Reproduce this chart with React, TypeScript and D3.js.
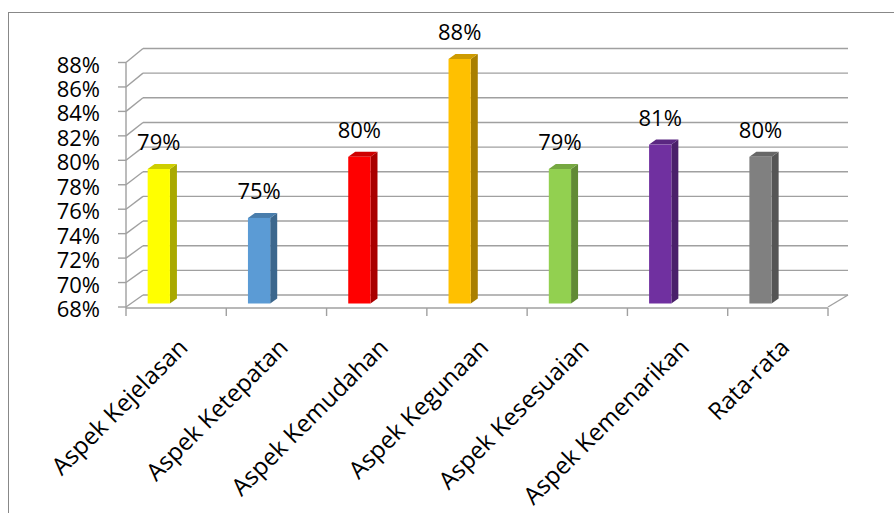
import React from "react";
import * as d3 from "d3";

const categories = [
  "Aspek Kejelasan",
  "Aspek Ketepatan",
  "Aspek Kemudahan",
  "Aspek Kegunaan",
  "Aspek Kesesuaian",
  "Aspek Kemenarikan",
  "Rata-rata",
];
const values = [79, 75, 80, 88, 79, 81, 80];
const barColors = ["#FFFF00", "#5B9BD5", "#FF0000", "#FFC000", "#92D050", "#7030A0", "#808080"];
const yTicks = [68, 70, 72, 74, 76, 78, 80, 82, 84, 86, 88];

const W = 894;
const H = 513;
const FONT = "'Open Sans', 'DejaVu Sans', sans-serif";

export default function App() {
  const x0 = 126;
  const x1 = 828;
  const depthX = 17;
  const yFront = d3.scaleLinear().domain([68, 88]).range([307, 62.5]);
  const yBack = d3.scaleLinear().domain([68, 88]).range([295, 48.5]);
  const band = d3.scaleBand<string>().domain(categories).range([x0, x1]).padding(0);
  const bw = band.bandwidth();
  const backX0 = x0 + depthX;
  const backX1 = 848;
  const grid = "#A0A0A0";

  const faceOff = bw * 0.216;
  const faceW = bw * 0.222;
  const sideDx = 7;
  const sideDy = 5;
  const yBar = (v: number) => yFront(v) - 3.5;

  return (
    <svg width={W} height={H} style={{ position: "absolute", left: 0, top: 0, background: "#fff" }}>
      <rect x={8.5} y={12.5} width={1000} height={1000} fill="#fff" stroke="#888" strokeWidth={1} />
      {yTicks.map((t) => (
        <line key={"bg" + t} x1={backX0} x2={backX1} y1={yBack(t)} y2={yBack(t)} stroke={grid} strokeWidth={1.4} />
      ))}
      {yTicks.map((t) => (
        <line key={"lw" + t} x1={x0} x2={backX0} y1={yFront(t)} y2={yBack(t)} stroke={grid} strokeWidth={1.4} />
      ))}
      <line x1={x1} y1={yFront(68)} x2={backX1} y2={yBack(68)} stroke={grid} strokeWidth={1.4} />
      <line x1={x0} x2={x0} y1={yFront(88)} y2={yFront(68) + 1} stroke={grid} strokeWidth={1.4} />
      <line x1={x0} x2={x1} y1={yFront(68) + 1} y2={yFront(68) + 1} stroke={grid} strokeWidth={1.4} />
      {yTicks.map((t) => (
        <g key={"yt" + t}>
          <line x1={x0 - 8} x2={x0} y1={yFront(t)} y2={yFront(t)} stroke={grid} strokeWidth={1.4} />
          <text x={100} y={yFront(t) + 10} textAnchor="end" fontSize={22} fontFamily={FONT} fill="#000">
            {t + "%"}
          </text>
        </g>
      ))}
      {d3.range(categories.length + 1).map((i) => {
        const xx = x0 + i * bw;
        return <line key={"xt" + i} x1={xx} x2={xx} y1={yFront(68) + 1} y2={yFront(68) + 9} stroke={grid} strokeWidth={1.4} />;
      })}
      {categories.map((c, i) => {
        const v = values[i];
        const l = (band(c) as number) + faceOff;
        const r = l + faceW;
        const top = yBar(v);
        const bot = yBar(68);
        const base = d3.rgb(barColors[i]);
        const side = base.darker(1.15).formatHex();
        const topC = base.darker(0.6).formatHex();
        return (
          <g key={c}>
            <path
              d={`M${r},${top}L${r + sideDx},${top - sideDy}L${r + sideDx},${bot - sideDy}L${r},${bot}Z`}
              fill={side}
            />
            <path
              d={`M${l},${top}L${l + sideDx},${top - sideDy}L${r + sideDx},${top - sideDy}L${r},${top}Z`}
              fill={topC}
            />
            <rect x={l} y={top} width={faceW} height={bot - top} fill={barColors[i]} />
            <text x={(l + r) / 2} y={top - 19} textAnchor="middle" fontSize={22} fontFamily={FONT} fill="#000">
              {v + "%"}
            </text>
          </g>
        );
      })}
      {categories.map((c) => {
        const cx = (band(c) as number) + bw / 2 + 13;
        const cy = 349;
        return (
          <text
            key={"cl" + c}
            transform={`translate(${cx},${cy}) rotate(-45)`}
            textAnchor="end"
            fontSize={24}
            fontFamily={FONT}
            fill="#000"
          >
            {c}
          </text>
        );
      })}
    </svg>
  );
}
